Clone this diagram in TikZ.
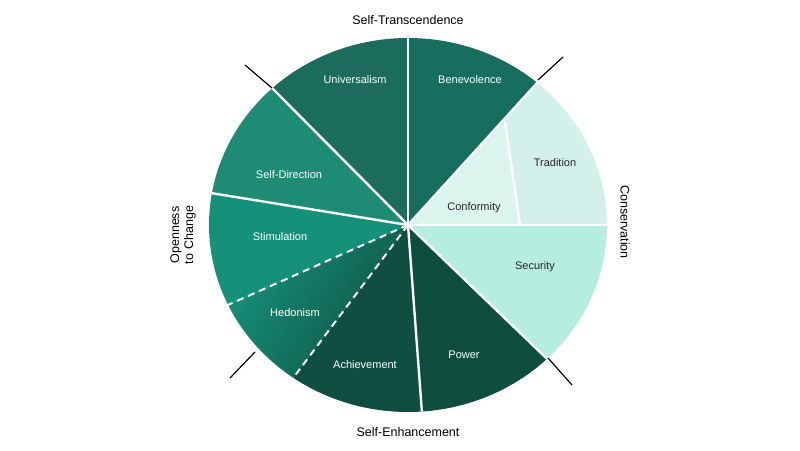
\documentclass[tikz,border=0pt]{standalone}
\usepackage{fontspec}
\setmainfont{Liberation Sans}
\definecolor{ctra}{RGB}{211,241,234}
\definecolor{cben}{RGB}{23,110,94}
\definecolor{cuni}{RGB}{27,108,93}
\definecolor{csd}{RGB}{30,139,117}
\definecolor{csti}{RGB}{21,145,122}
\definecolor{cach}{RGB}{15,78,64}
\definecolor{cpow}{RGB}{15,77,63}
\definecolor{csec}{RGB}{181,237,224}
\definecolor{ccon}{RGB}{220,244,238}
\definecolor{hedA}{RGB}{22,144,122}
\definecolor{hedB}{RGB}{15,82,68}
\begin{document}
\begin{tikzpicture}[x=1pt,y=1pt,
  sep/.style={white,line width=2.4pt},
  dsep/.style={white,line width=2pt,dash pattern=on 7pt off 5pt},
  lbl/.style={white,font=\fontsize{11}{13}\selectfont},
  dlbl/.style={black!85,font=\fontsize{11}{13}\selectfont},
  axis/.style={black,font=\fontsize{12.5}{14}\selectfont,align=center},
  tick/.style={black,line width=1.2pt}]
\useasboundingbox (0,0) rectangle (800,450);
\def\rx{199}\def\ry{187}
\coordinate (c) at (408,225);
\newcommand\sector[3]{\fill[#1] (c) -- ++({\rx*cos(#2)},{\ry*sin(#2)}) arc[start angle=#2,end angle=#3,x radius=\rx,y radius=\ry] -- cycle;}
\sector{ctra}{0}{49.5}
\sector{cben}{49.5}{90}
\sector{cuni}{90}{133}
\sector{csd}{133}{170.2}
\sector{csti}{170.2}{205.3}
\sector{cach}{234.8}{274}
\sector{cpow}{274}{314.3}
\sector{csec}{314.3}{360}
\shade[left color=hedA,right color=hedB,shading angle=60] (c) -- ++({\rx*cos(205.3)},{\ry*sin(205.3)}) arc[start angle=205.3,end angle=234.8,x radius=\rx,y radius=\ry] -- cycle;
\coordinate (p1) at (505,328);
\coordinate (p2) at (520,225);
\fill[ccon] (c) -- (p1) -- (p2) -- cycle;
% separators
\foreach \a in {0,49.5,90,133,170.2,274,314.3}
  \draw[sep] (c) -- ++({\rx*cos(\a)},{\ry*sin(\a)});
\foreach \a in {205.3,234.8}
  \draw[dsep] (c) -- ++({\rx*cos(\a)},{\ry*sin(\a)});
\draw[sep] (p1) -- (p2);
% ticks
\coordinate (t1a) at (245,385); \coordinate (t1b) at (272,362);
\coordinate (t2a) at (538,370); \coordinate (t2b) at (563,393);
\coordinate (t3a) at (548,92); \coordinate (t3b) at (572,65);
\coordinate (t4a) at (230,72); \coordinate (t4b) at (255,98);
\draw[tick] (t1a) -- (t1b); \draw[tick] (t2a) -- (t2b);
\draw[tick] (t3a) -- (t3b); \draw[tick] (t4a) -- (t4b);
% labels
\node[lbl] (uni) at (355,370) {Universalism};
\node[lbl] (ben) at (470,370) {Benevolence};
\node[lbl] (sd) at (289,275) {Self-Direction};
\node[lbl] (sti) at (280,213) {Stimulation};
\node[lbl] (hed) at (295,137) {Hedonism};
\node[lbl] (ach) at (365,85) {Achievement};
\node[lbl] (pow) at (464,95) {Power};
\node[dlbl] (sec) at (535,183) {Security};
\node[dlbl] (con) at (474,242) {Conformity};
\node[dlbl] (tra) at (555,287) {Tradition};
\node[axis] (st) at (408,430) {Self-Transcendence};
\node[axis] (se) at (408,18) {Self-Enhancement};
\node[axis,rotate=-90] (cv) at (625,228) {Conservation};
\node[axis,rotate=90,align=center,text width=70pt] (oc) at (183,215) {Openness to Change};
\end{tikzpicture}
\end{document}
